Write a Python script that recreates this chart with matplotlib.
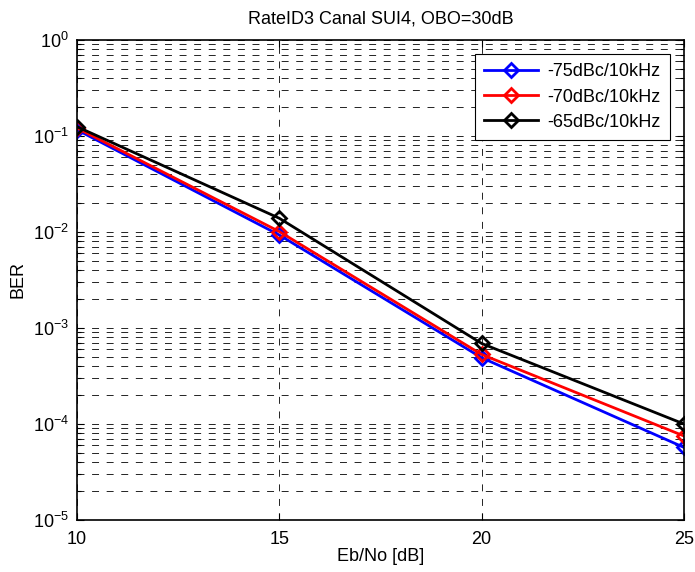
import matplotlib
matplotlib.use("Agg")
import matplotlib.pyplot as plt
from matplotlib.ticker import LogLocator, NullFormatter, FixedLocator

plt.rcParams['font.family'] = ['Liberation Sans', 'DejaVu Sans']
plt.rcParams['mathtext.fontset'] = 'custom'
plt.rcParams['mathtext.rm'] = 'Liberation Sans'
plt.rcParams['mathtext.it'] = 'Liberation Sans'
plt.rcParams['lines.scale_dashes'] = False

# Eb/No sweep points and measured BER for each phase-noise level
ebno_db = [10, 15, 20, 25]
ber_75 = [0.116, 0.0093, 4.9e-4, 5.7e-5]
ber_70 = [0.121, 0.0101, 5.3e-4, 7.5e-5]
ber_65 = [0.125, 0.0139, 6.9e-4, 1.0e-4]

series_labels = ['-75dBc/10kHz', '-70dBc/10kHz', '-65dBc/10kHz']
series_colors = ['#0000ff', '#ff0000', '#000000']

x_ticks = [10, 15, 20, 25]

fs = 13

fig = plt.figure(figsize=(6.95, 5.72), dpi=100)
ax = fig.add_axes([77 / 695, 1 - 520 / 572, (684 - 77) / 695, (520 - 40) / 572])

for ys, lab, col in zip([ber_75, ber_70, ber_65], series_labels, series_colors):
    ax.semilogy(ebno_db, ys, color=col, lw=2.0, marker='D', markersize=7.5,
                markerfacecolor='none', markeredgecolor=col, markeredgewidth=2.0,
                label=lab)

ax.set_xlim(10, 25)
ax.set_ylim(1e-5, 1)
ax.xaxis.set_major_locator(FixedLocator(x_ticks))
ax.yaxis.set_major_locator(LogLocator(base=10, numticks=10))
ax.yaxis.set_minor_locator(LogLocator(base=10, subs=range(2, 10), numticks=20))
ax.yaxis.set_minor_formatter(NullFormatter())

dash = (0, (5, 5.5))
ax.grid(True, which='major', axis='both', color='black', lw=0.6, linestyle=dash)
ax.grid(True, which='minor', axis='y', color='black', lw=0.6, linestyle=dash)
ax.set_axisbelow(True)

ax.tick_params(which='both', direction='in', top=True, right=True, labelsize=fs,
               color='black')
ax.tick_params(axis='x', which='major', pad=8)
ax.tick_params(axis='y', which='major', pad=6)
ax.tick_params(which='major', length=5, width=0.8)
ax.tick_params(which='minor', length=3, width=0.8)
for sp in ax.spines.values():
    sp.set_linewidth(1.2)
    sp.set_color('black')

ax.set_title('RateID3 Canal SUI4, OBO=30dB', fontsize=fs, pad=12)
ax.set_xlabel('Eb/No [dB]', fontsize=fs, labelpad=0)
ax.set_ylabel('BER', fontsize=fs, labelpad=4)

leg = ax.legend(loc='upper right', fontsize=fs, handlelength=3.0, framealpha=1,
                fancybox=False, edgecolor='black', borderaxespad=0.8,
                labelspacing=0.45, handletextpad=0.5, borderpad=0.5)
leg.get_frame().set_linewidth(0.8)

fig.savefig('out.png', dpi=100, facecolor='white')
